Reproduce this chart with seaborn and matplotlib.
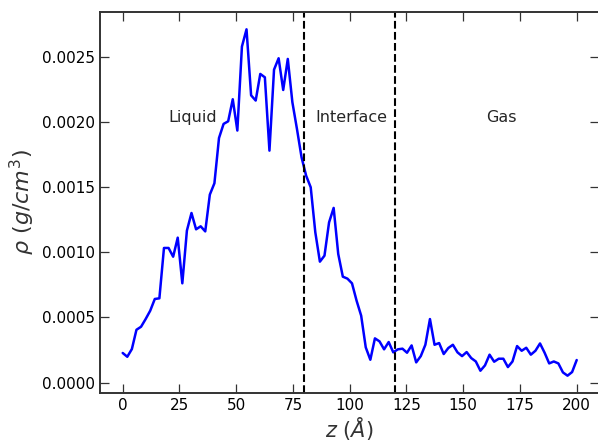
import numpy as np
import pandas as pd
import matplotlib
matplotlib.use("Agg")
import matplotlib.pyplot as plt
import seaborn as sns

# Density profile data (100 bins from 0 to 200 Å)
z = np.linspace(0, 200, 100)
rho = [
    0.000228, 0.000199, 0.000258, 0.000406, 0.000429, 0.000488, 0.000552, 0.000642, 0.000647, 0.001033,
    0.001033, 0.000966, 0.001112, 0.000762, 0.001166, 0.001301, 0.001176, 0.001199, 0.001160, 0.001442,
    0.001529, 0.001876, 0.001984, 0.002004, 0.002173, 0.001933, 0.002577, 0.002709, 0.002203, 0.002163,
    0.002367, 0.002341, 0.001779, 0.002400, 0.002487, 0.002244, 0.002482, 0.002150, 0.001945, 0.001728,
    0.001587, 0.001498, 0.001153, 0.000928, 0.000974, 0.001229, 0.001340, 0.000987, 0.000813, 0.000798,
    0.000762, 0.000629, 0.000514, 0.000271, 0.000176, 0.000340, 0.000317, 0.000256, 0.000312, 0.000233,
    0.000256, 0.000261, 0.000230, 0.000286, 0.000156, 0.000204, 0.000291, 0.000488, 0.000291, 0.000304,
    0.000220, 0.000266, 0.000291, 0.000233, 0.000204, 0.000235, 0.000189, 0.000163, 0.000092, 0.000133,
    0.000215, 0.000161, 0.000184, 0.000184, 0.000120, 0.000163, 0.000281, 0.000245, 0.000268, 0.000215,
    0.000245, 0.000301, 0.000230, 0.000148, 0.000163, 0.000148, 0.000079, 0.000054, 0.000082, 0.000174,
]

boundaries = [80, 120]
region_labels = ["Liquid", "Interface", "Gas"]
region_x = [20, 85, 160]
region_y = 0.002

df = pd.DataFrame({"z": z, "rho": rho})

sns.set_style("ticks")
plt.rcParams["font.family"] = ["DejaVu Sans"]

fig = plt.figure(figsize=(5.98, 4.42), dpi=100)
ax = fig.add_axes([100 / 598, 49 / 442, 499.4 / 598, 381 / 442])

sns.lineplot(data=df, x="z", y="rho", color="blue", linewidth=1.8, ax=ax)

for b in boundaries:
    ax.axvline(b, color="black", linestyle="--", linewidth=1.5)

for lab, xx in zip(region_labels, region_x):
    ax.text(xx, region_y, lab, fontsize=11.5, color="#262626")

ax.set_xticks([0, 25, 50, 75, 100, 125, 150, 175, 200])
ax.set_yticks([0.0, 0.0005, 0.001, 0.0015, 0.002, 0.0025])
ax.set_yticklabels(["0.0000", "0.0005", "0.0010", "0.0015", "0.0020", "0.0025"])

ax.tick_params(axis="both", which="major", direction="in", top=True, right=True,
               length=6.5, width=0.9, labelsize=11, colors="#333333", labelcolor="black")
for s in ax.spines.values():
    s.set_color("#333333")
    s.set_linewidth(1.4)

ax.set_xlabel(r"$z\ (\AA)$", fontsize=15, color="#333333", labelpad=1.5)
ax.set_ylabel(r"$\rho\ (g/cm^3)$", fontsize=16, color="#333333")

fig.savefig("out.png", dpi=100)
